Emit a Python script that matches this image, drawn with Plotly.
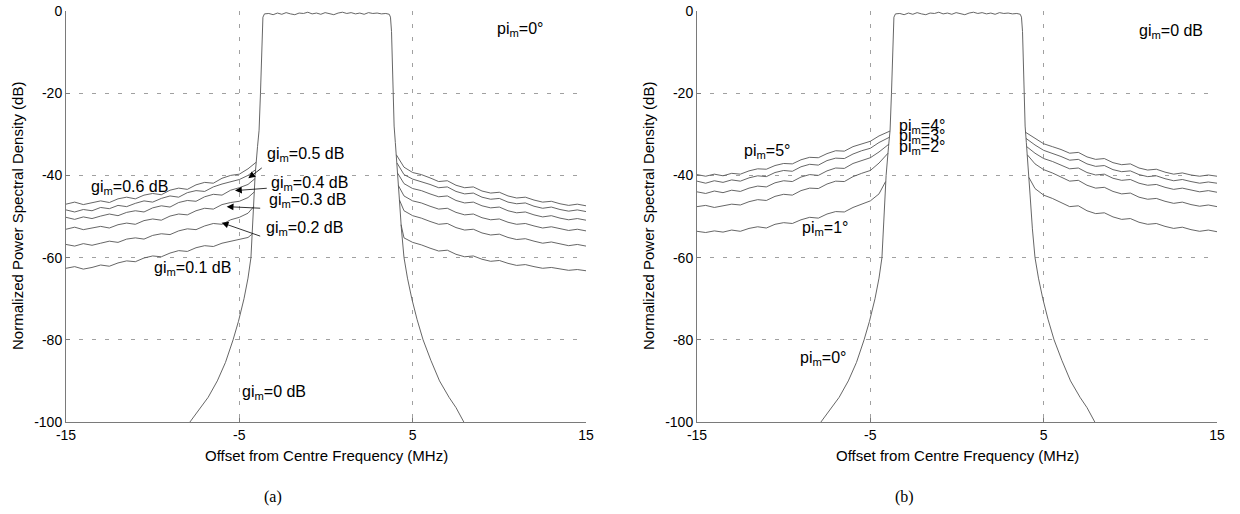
import plotly.graph_objects as go

# ---------------------------------------------------------------------------
# Ideal transmitted spectrum (gi_m = 0 dB, pi_m = 0 deg): pass band and skirts
# ---------------------------------------------------------------------------
SIG_F = [-7.85, -7.3, -6.8, -6.27, -5.8, -5.36, -5.05, -4.73, -4.5, -4.33, -4.2,
         -4.09, -3.95, -3.86, -3.78, -3.72, -3.68, -3.64, -3.55,
         -3.3, -3.05, -2.8, -2.55, -2.3, -2.05, -1.8, -1.55, -1.3, -1.05, -0.8,
         -0.55, -0.3, -0.05, 0.2, 0.45, 0.7, 0.95, 1.2, 1.45, 1.7, 1.95, 2.2,
         2.45, 2.7, 2.95, 3.2, 3.45,
         3.65, 3.72, 3.78, 3.82, 3.87, 3.93, 4.0, 4.1, 4.22, 4.35, 4.5, 4.7,
         4.95, 5.25, 5.6, 6.05, 6.55, 7.1, 7.5, 7.95]
SIG_DB = [-100, -97, -94, -90, -85.5, -80, -75.5, -70, -65, -60, -50,
          -40, -33, -29, -20, -12, -5, -1.5, -0.7,
          -0.6, -0.9, -0.5, -0.8, -0.4, -0.7, -0.9, -0.5, -0.6, -0.3, -0.7,
          -0.5, -0.8, -0.4, -0.6, -0.9, -0.5, -0.3, -0.6, -0.4, -0.7, -0.5,
          -0.8, -0.4, -0.6, -0.5, -0.7, -0.6,
          -0.8, -1.5, -5, -12, -20, -28, -32, -37, -45, -53, -60, -65,
          -70, -75, -80, -85, -90, -94, -96.5, -100]

# frequency grid of the out-of-band image floor
F_LEFT = [-15, -14.5, -14, -13.5, -13, -12.5, -12, -11.5, -11, -10.5, -10,
          -9.5, -9, -8.5, -8, -7.5, -7, -6.5, -6, -5.5, -5, -4.5]
F_RIGHT = [4.5, 5, 5.5, 6, 6.5, 7, 7.5, 8, 8.5, 9, 9.5, 10, 10.5, 11, 11.5,
           12, 12.5, 13, 13.5, 14, 14.5, 15]

# ---------------------------------------------------------------------------
# (a) gain imbalance gi_m = 0.6 ... 0.1 dB
# left floor values on F_LEFT, then the point where it meets the skirt
# right floor values start at the skirt, then follow F_RIGHT
# ---------------------------------------------------------------------------
GI_LABELS = ["0.6", "0.5", "0.4", "0.3", "0.2", "0.1"]
GI_EDGE_X_L = [-4.03, -4.06, -4.10, -4.13, -4.17, -4.26]
GI_EDGE_X_R = [4.06, 4.10, 4.14, 4.18, 4.24, 4.33]

GI06_L = [-47.0, -46.5, -47.1, -46.6, -46.2, -46.6, -45.7, -45.3, -45.7, -44.8, -44.4,
          -44.7, -43.6, -43.1, -43.4, -42.3, -41.7, -41.9, -40.7, -40.0, -39.7, -38.4, -36.8]
GI05_L = [-48.4, -48.9, -48.3, -48.6, -47.8, -48.1, -47.3, -47.6, -46.8, -46.2, -46.5,
          -45.6, -45.0, -45.3, -44.2, -43.7, -43.9, -42.8, -42.1, -41.6, -41.0, -40.0, -38.6]
GI04_L = [-50.2, -50.7, -50.1, -50.5, -49.9, -49.4, -49.8, -49.0, -48.6, -48.9, -47.9,
          -47.4, -47.7, -46.6, -46.1, -46.3, -45.2, -44.6, -44.8, -43.6, -43.0, -42.2, -40.8]
GI03_L = [-53.1, -52.6, -53.2, -52.8, -52.4, -52.8, -52.0, -51.6, -51.9, -51.0, -50.6,
          -50.9, -49.9, -49.4, -49.6, -48.6, -48.0, -48.2, -47.1, -46.6, -46.3, -45.4, -44.0]
GI02_L = [-56.8, -57.2, -56.6, -57.0, -56.5, -56.0, -56.3, -55.5, -55.2, -55.5, -54.6,
          -54.2, -54.4, -53.5, -53.0, -53.2, -52.3, -51.7, -51.9, -50.8, -50.2, -49.2, -47.6]
GI01_L = [-62.6, -62.2, -62.8, -62.4, -61.8, -62.1, -61.3, -60.8, -61.0, -60.1, -59.6,
          -59.8, -58.9, -58.3, -58.5, -57.6, -57.1, -57.3, -56.5, -56.0, -55.6, -55.1, -54.3]

GI06_R = [-35.0, -38.0, -39.3, -39.8, -40.6, -41.5, -41.3, -42.4, -43.0, -42.8, -43.8, -44.3,
          -44.1, -45.0, -45.5, -45.3, -46.0, -46.5, -46.3, -46.9, -47.3, -47.0, -47.4]
GI05_R = [-37.0, -39.8, -40.9, -41.5, -42.2, -43.0, -42.8, -43.9, -44.5, -44.3, -45.3, -45.8,
          -45.6, -46.5, -46.9, -46.7, -47.5, -48.0, -47.7, -48.3, -48.7, -48.4, -48.8]
GI04_R = [-39.5, -42.0, -43.2, -43.7, -44.5, -45.2, -45.0, -46.1, -46.7, -46.5, -47.4, -47.9,
          -47.7, -48.6, -49.1, -48.9, -49.6, -50.1, -49.8, -50.4, -50.8, -50.5, -50.9]
GI03_R = [-42.5, -45.0, -46.2, -46.7, -47.5, -48.2, -48.0, -49.0, -49.6, -49.4, -50.3, -50.8,
          -50.6, -51.4, -51.9, -51.7, -52.3, -52.8, -52.5, -53.0, -53.4, -53.1, -53.5]
GI02_R = [-46.0, -48.6, -49.8, -50.4, -51.2, -51.9, -51.7, -52.7, -53.3, -53.1, -54.0, -54.5,
          -54.3, -55.1, -55.6, -55.4, -56.0, -56.5, -56.2, -56.7, -57.1, -56.8, -57.2]
GI01_R = [-52.0, -55.2, -56.3, -56.9, -57.7, -58.4, -58.2, -59.2, -59.8, -59.6, -60.4, -60.9,
          -60.7, -61.4, -61.9, -61.7, -62.2, -62.6, -62.4, -62.8, -63.1, -62.9, -63.2]

# ---------------------------------------------------------------------------
# (b) phase imbalance pi_m = 5 ... 1 deg
# ---------------------------------------------------------------------------
PI_LABELS = ["5", "4", "3", "2", "1"]
PI_EDGE_X_L = [-3.86, -3.89, -3.93, -3.98, -4.12]
PI_EDGE_X_R = [3.95, 3.98, 4.02, 4.06, 4.15]

PI5_L = [-39.8, -40.2, -39.7, -40.1, -39.5, -39.7, -38.9, -38.4, -38.5, -37.6, -37.1,
         -37.2, -36.2, -35.6, -35.7, -34.7, -34.0, -34.1, -33.0, -32.3, -31.7, -30.4, -29.2]
PI4_L = [-41.4, -41.9, -41.3, -41.7, -41.1, -41.4, -40.6, -40.1, -40.3, -39.3, -38.8,
         -39.0, -37.9, -37.3, -37.5, -36.4, -35.8, -35.9, -34.8, -34.0, -33.4, -32.0, -30.7]
PI3_L = [-44.0, -44.4, -43.8, -44.2, -43.6, -43.9, -43.1, -42.6, -42.8, -41.8, -41.3,
         -41.5, -40.4, -39.8, -40.0, -38.9, -38.2, -38.3, -37.1, -36.4, -35.7, -34.3, -32.4]
PI2_L = [-47.6, -47.3, -47.8, -47.4, -47.0, -47.2, -46.4, -45.9, -46.1, -45.1, -44.6,
         -44.8, -43.7, -43.1, -43.2, -42.1, -41.4, -41.5, -40.3, -39.5, -38.8, -37.0, -34.6]
PI1_L = [-53.6, -53.9, -53.5, -53.8, -53.3, -53.6, -52.9, -52.5, -52.8, -51.9, -51.5,
         -51.7, -50.8, -50.2, -50.4, -49.4, -48.8, -48.9, -47.8, -47.0, -46.2, -44.5, -41.5]

PI5_R = [-29.5, -31.0, -32.3, -33.0, -33.7, -34.6, -34.4, -35.5, -36.1, -35.9, -36.9, -37.4,
         -37.2, -38.2, -38.7, -38.5, -39.2, -39.7, -39.4, -39.9, -40.2, -39.9, -40.2]
PI4_R = [-31.0, -32.6, -33.9, -34.6, -35.4, -36.3, -36.1, -37.2, -37.8, -37.6, -38.6, -39.1,
         -38.9, -39.8, -40.3, -40.1, -40.8, -41.3, -41.0, -41.5, -41.9, -41.6, -41.9]
PI3_R = [-33.0, -34.6, -35.9, -36.6, -37.5, -38.4, -38.2, -39.3, -39.9, -39.7, -40.7, -41.2,
         -41.0, -41.9, -42.4, -42.2, -42.9, -43.4, -43.1, -43.6, -44.0, -43.7, -44.1]
PI2_R = [-35.0, -37.2, -38.6, -39.4, -40.4, -41.4, -41.2, -42.4, -43.1, -42.9, -43.9, -44.5,
         -44.3, -45.3, -45.8, -45.6, -46.3, -46.8, -46.5, -47.1, -47.5, -47.2, -47.6]
PI1_R = [-40.5, -43.2, -44.8, -45.6, -46.6, -47.6, -47.4, -48.6, -49.3, -49.1, -50.1, -50.7,
         -50.5, -51.4, -51.9, -51.7, -52.4, -52.9, -52.6, -53.2, -53.6, -53.3, -53.7]

X_TICKS = [-15, -5, 5, 15]
X_TICK_TEXT = ["-15", "-5", "5", "15"]
Y_TICKS = [0, -20, -40, -60, -80, -100]
Y_TICK_TEXT = ["0", "-20", "-40", "-60", "-80", "-100"]

LINE_COLOR = "#555555"
AXIS_COLOR = "#7a7a7a"
GRID_COLOR = "#a0a0a0"
SANS = "Liberation Sans, Arial, sans-serif"
SERIF = "Liberation Serif, Times New Roman, serif"

W, H = 1240, 514
fig = go.Figure()


def add_line(x, y, xa, ya):
    fig.add_trace(go.Scatter(x=x, y=y, mode="lines", xaxis=xa, yaxis=ya,
                             line=dict(color=LINE_COLOR, width=0.9),
                             hoverinfo="skip", showlegend=False))


gi_left = [GI06_L, GI05_L, GI04_L, GI03_L, GI02_L, GI01_L]
gi_right = [GI06_R, GI05_R, GI04_R, GI03_R, GI02_R, GI01_R]
for yl, yr, el, er in zip(gi_left, gi_right, GI_EDGE_X_L, GI_EDGE_X_R):
    add_line(F_LEFT + [el], yl, "x", "y")
    add_line([er] + F_RIGHT, yr, "x", "y")
add_line(SIG_F, SIG_DB, "x", "y")

pi_left = [PI5_L, PI4_L, PI3_L, PI2_L, PI1_L]
pi_right = [PI5_R, PI4_R, PI3_R, PI2_R, PI1_R]
for yl, yr, el, er in zip(pi_left, pi_right, PI_EDGE_X_L, PI_EDGE_X_R):
    add_line(F_LEFT + [el], yl, "x2", "y2")
    add_line([er] + F_RIGHT, yr, "x2", "y2")
add_line(SIG_F, SIG_DB, "x2", "y2")

# plot-area placement in pixels
LEFT_X0, LEFT_X1 = 66, 586
RIGHT_X0, RIGHT_X1 = 697, 1217
TOP_Y, BOT_Y = 11, 422


def xaxis_cfg(x0, x1, anchor):
    return dict(domain=[x0 / W, x1 / W], range=[-15, 15], anchor=anchor,
                tickvals=X_TICKS, ticktext=X_TICK_TEXT,
                showline=True, linecolor=AXIS_COLOR, linewidth=1,
                ticks="inside", ticklen=4, tickcolor=AXIS_COLOR,
                showgrid=True, gridcolor=GRID_COLOR, griddash="4px,9px", gridwidth=1,
                zeroline=False, automargin=False,
                tickfont=dict(family=SANS, size=14, color="#000"),
                fixedrange=True)


def yaxis_cfg(anchor):
    return dict(domain=[1 - BOT_Y / H, 1 - TOP_Y / H], range=[-100, 0], anchor=anchor,
                tickvals=Y_TICKS, ticktext=Y_TICK_TEXT,
                showline=True, linecolor=AXIS_COLOR, linewidth=1,
                ticks="inside", ticklen=4, tickcolor=AXIS_COLOR,
                showgrid=True, gridcolor=GRID_COLOR, griddash="4px,9px", gridwidth=1,
                zeroline=False, automargin=False,
                tickfont=dict(family=SANS, size=14, color="#000"),
                fixedrange=True)


annotations = []


def label(text, x, y, xref, yref, size=16, xanchor="left"):
    annotations.append(dict(text=text, x=x, y=y, xref=xref, yref=yref,
                            xanchor=xanchor, yanchor="middle", showarrow=False,
                            font=dict(family=SANS, size=size, color="#000")))


def arrow(x_head, y_head, x_tail, y_tail, xref, yref):
    annotations.append(dict(text="", x=x_head, y=y_head, ax=x_tail, ay=y_tail,
                            xref=xref, yref=yref, axref=xref, ayref=yref,
                            showarrow=True, arrowhead=2, arrowsize=1.7,
                            arrowwidth=0.8, arrowcolor="#000"))


# (a) labels
label("gi<sub>m</sub>=0.6 dB", -13.67, -42.9, "x", "y")
label("gi<sub>m</sub>=0.5 dB", -3.52, -35.0, "x", "y")
label("gi<sub>m</sub>=0.4 dB", -3.27, -41.9, "x", "y")
label("gi<sub>m</sub>=0.3 dB", -3.42, -46.2, "x", "y")
label("gi<sub>m</sub>=0.2 dB", -3.58, -53.0, "x", "y")
label("gi<sub>m</sub>=0.1 dB", -10.06, -62.6, "x", "y")
label("gi<sub>m</sub>=0 dB", -4.96, -92.7, "x", "y")
label("pi<sub>m</sub>=0°", 9.75, -4.6, "x", "y")
arrow(-4.48, -40.7, -3.62, -37.9, "x", "y")
arrow(-5.25, -43.7, -3.33, -43.1, "x", "y")
arrow(-5.73, -47.6, -3.71, -48.0, "x", "y")
arrow(-6.02, -51.5, -3.71, -54.9, "x", "y")

# (b) labels
label("gi<sub>m</sub>=0 dB", 10.37, -5.0, "x2", "y2")
label("pi<sub>m</sub>=5°", -12.42, -34.2, "x2", "y2")
label("pi<sub>m</sub>=4°", -3.48, -28.0, "x2", "y2")
label("pi<sub>m</sub>=3°", -3.48, -30.6, "x2", "y2")
label("pi<sub>m</sub>=2°", -3.48, -33.2, "x2", "y2")
label("pi<sub>m</sub>=1°", -9.06, -52.9, "x2", "y2")
label("pi<sub>m</sub>=0°", -9.15, -84.5, "x2", "y2")

# axis titles and captions
XT = "Offset from Centre Frequency (MHz)"
YT = "Normalized Power Spectral Density (dB)"
for x0, x1, cap in [(LEFT_X0, LEFT_X1, "(a)"), (RIGHT_X0, RIGHT_X1, "(b)")]:
    cx = (x0 + x1) / 2 / W
    annotations.append(dict(text=XT, x=cx, y=1 - 455 / H, xref="paper", yref="paper",
                            xanchor="center", yanchor="middle", showarrow=False,
                            font=dict(family=SANS, size=15, color="#000")))
    annotations.append(dict(text=YT, x=(x0 - 49) / W, y=1 - 216 / H, xref="paper",
                            yref="paper", xanchor="center", yanchor="middle",
                            textangle=-90, showarrow=False,
                            font=dict(family=SANS, size=15, color="#000")))
    annotations.append(dict(text=cap, x=(x0 + 207) / W, y=1 - 497 / H, xref="paper",
                            yref="paper", xanchor="center", yanchor="middle",
                            showarrow=False,
                            font=dict(family=SERIF, size=16, color="#000")))

fig.update_layout(
    width=W, height=H, margin=dict(l=0, r=0, t=0, b=0),
    paper_bgcolor="white", plot_bgcolor="white",
    xaxis=xaxis_cfg(LEFT_X0, LEFT_X1, "y"),
    yaxis=yaxis_cfg("x"),
    xaxis2=xaxis_cfg(RIGHT_X0, RIGHT_X1, "y2"),
    yaxis2=yaxis_cfg("x2"),
    annotations=annotations,
    showlegend=False,
)

# the page itself carries no margin so the figure fills the window exactly
fig.write_html("out.html",
               post_script="document.body.style.margin='0';"
                           "document.body.style.overflow='hidden';")
